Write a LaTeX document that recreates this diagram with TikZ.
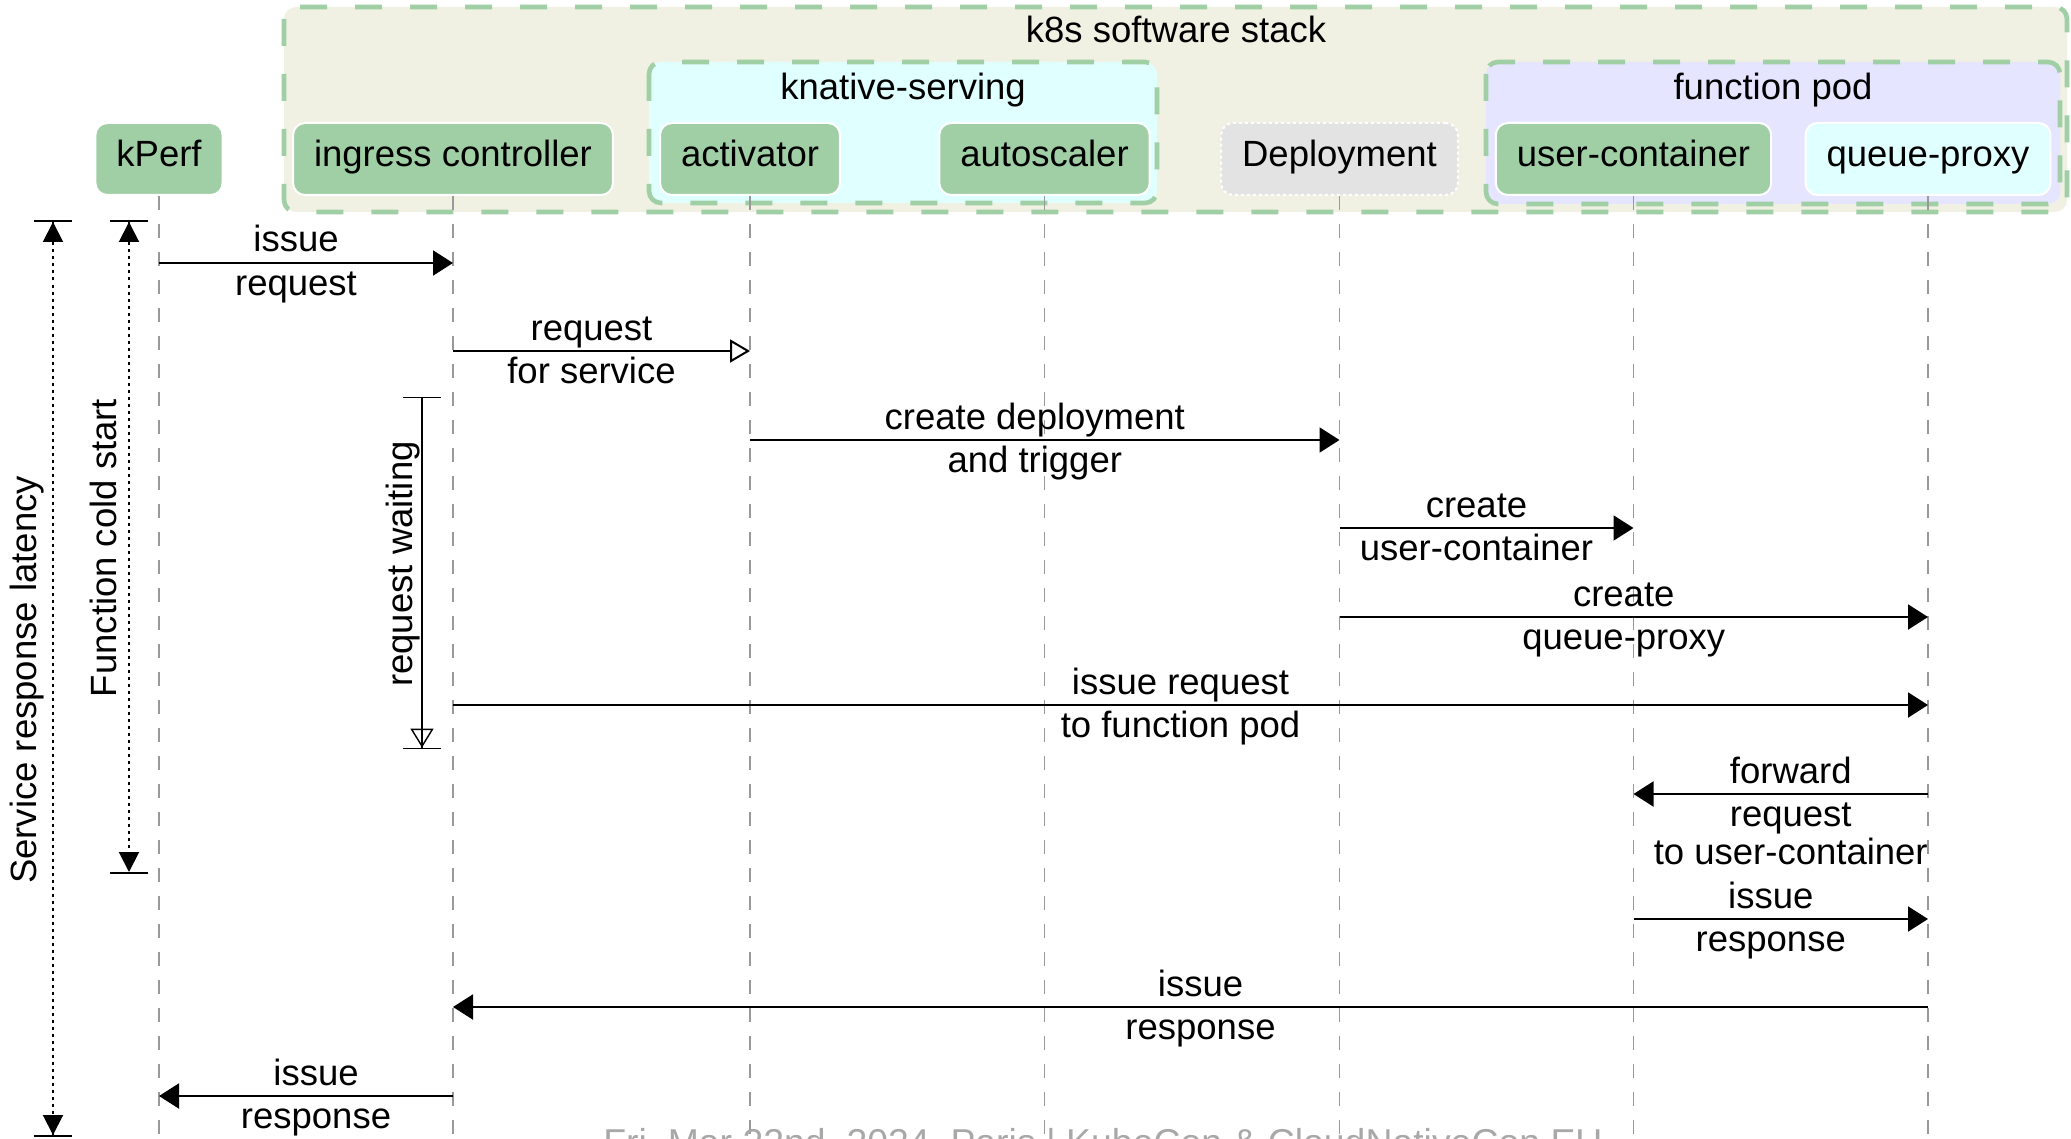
\documentclass[tikz,border=0pt]{standalone}
\usepackage{fontspec}
\setmainfont{Liberation Sans}
\usetikzlibrary{arrows.meta}
\definecolor{podgreen}{HTML}{A0CFA6}
\definecolor{stackbeige}{HTML}{F0F0E3}
\definecolor{servcyan}{HTML}{E0FFFF}
\definecolor{podlilac}{HTML}{E5E5FF}
\definecolor{deplgray}{HTML}{E3E3E3}
\definecolor{linegray}{HTML}{999999}
\definecolor{footgray}{HTML}{A8A8A8}
\newcommand{\boxh}{36pt}
\newcommand{\padx}{10.5pt}
\newcommand{\tipl}{10pt}

\tikzset{
    actor/.style = {rectangle, rounded corners=6pt, fill=podgreen, draw=white, line width=1pt,
                    minimum height=\boxh, inner xsep=\padx, text height=0.82em, text depth=0.09em},
    deployment/.style = {fill=deplgray, dash pattern=on 1.5pt off 1.5pt},
    group/.style = {draw=podgreen, line width=2.3pt, rounded corners=6pt, dash pattern=on 13.5pt off 14pt},
    grouptitle/.style = {anchor=base, inner sep=0pt},
    lifeline/.style = {draw=linegray, line width=0.85pt, dash pattern=on 7pt off 7pt},
    call/.style = {line width=1pt, -{Triangle[length=\tipl, width=12.5pt]}},
    opencall/.style = {line width=1pt, -{Triangle[open, length=\tipl, width=11.5pt]}},
    upper/.style = {midway, anchor=base, inner sep=0pt, yshift=5.5pt, xshift=#1},
    upper/.default = -5pt,
    lower/.style = {midway, anchor=base, inner sep=0pt, yshift=-16.3pt, xshift=#1, align=center},
    lower/.default = -5pt,
    lowertwo/.style = {lower=#1, yshift=-19pt, font=\fontsize{18.25pt}{19pt}\selectfont},
    span/.style = {line width=1pt, dash pattern=on 1.5pt off 2pt,
                   {Bar[width=19pt]Triangle[length=\tipl, width=10pt]}-{Triangle[length=\tipl, width=10pt]Bar[width=19pt]}},
    waiting/.style = {line width=0.7pt, {Bar[width=19pt]}-{Triangle[open, length=9.5pt, width=11.5pt]Bar[width=19pt]}},
    sidelabel/.style = {rotate=90, inner sep=0pt},
    footer/.style = {anchor=base, inner sep=0pt, text=footgray, font=\fontsize{18.7pt}{22pt}\selectfont}
}

\begin{document}
\begin{tikzpicture}[x=0.5pt, y=-0.5pt, font=\fontsize{18.25pt}{21.9pt}\selectfont]
    \useasboundingbox (0,0) rectangle (2071,1139);
    %\draw[help lines, step=100] (0,0) grid (2071,1139);
    % groups
    \draw[group, fill=stackbeige] (284,7) rectangle (2067,212);
    \draw[group, fill=servcyan] (649,62) rectangle (1157,203);
    \draw[group, fill=podlilac] (1486,62) rectangle (2060,204);
    \node[grouptitle] (k8s) at (1176,43) {k8s software stack};
    \node[grouptitle] (knative) at (903,100) {knative-serving};
    \node[grouptitle] (pod) at (1773,100) {function pod};
    % participants
    \node[actor] (kperf) at (159,159) {kPerf};
    \node[actor] (ingress) at (453,159) {ingress controller};
    \node[actor] (activator) at (750,159) {activator};
    \node[actor] (autoscaler) at (1044.5,159) {autoscaler};
    \node[actor, deployment] (deploy) at (1339.5,159) {Deployment};
    \node[actor] (usercont) at (1633.5,159) {user-container};
    \node[actor, fill=servcyan] (qproxy) at (1928,159) {queue-proxy};
    \coordinate (bottom) at (0,1139);
    \foreach \n in {kperf,ingress,activator,autoscaler,deploy,usercont,qproxy} {
        \draw[lifeline] (\n.south) -- (\n.south |- bottom);
    }
    % message rows
    \foreach \y [count=\i] in {263,351,440,528,617,705,794,919,1007,1096} {
        \coordinate (m\i) at (0,\y);
    }
    \draw[call] (kperf |- m1) -- (ingress |- m1) node[upper] {issue} node[lower] {request};
    \draw[opencall] (ingress |- m2) -- (activator |- m2) node[upper] {request} node[lower] {for service};
    \draw[call] (activator |- m3) -- (deploy |- m3) node[upper] {create deployment} node[lower] {and trigger};
    \draw[call] (deploy |- m4) -- (usercont |- m4) node[upper] {create} node[lower] {user-container};
    \draw[call] (deploy |- m5) -- (qproxy |- m5) node[upper] {create} node[lower] {queue-proxy};
    \draw[call] (ingress |- m6) -- (qproxy |- m6) node[upper] {issue request} node[lower] {to function pod};
    \draw[call] (qproxy |- m7) -- (usercont |- m7) node[upper=5pt] {forward} node[lowertwo=5pt] {request\\to user-container};
    \draw[call] (usercont |- m8) -- (qproxy |- m8) node[upper] {issue} node[lower] {response};
    \draw[call] (qproxy |- m9) -- (ingress |- m9) node[upper=5pt] {issue} node[lower=5pt] {response};
    \draw[call] (ingress |- m10) -- (kperf |- m10) node[upper=5pt] {issue} node[lower=5pt] {response};
    % time spans
    \coordinate (srv0) at (53,220);
    \coordinate (srv1) at (53,1137);
    \coordinate (cold0) at (129,220);
    \coordinate (cold1) at (129,874);
    \coordinate (wait0) at (422,397);
    \coordinate (wait1) at (422,749);
    \draw[span] (srv0) -- (srv1);
    \draw[span] (cold0) -- (cold1);
    \draw[waiting] (wait0) -- (wait1);
    \node[sidelabel] (latency) at (27,680) {Service response latency};
    \node[sidelabel] (coldstart) at (103,548) {Function cold start};
    \node[sidelabel] (waitlabel) at (403,564) {request waiting};
    \node[footer] (footer) at (1103,1155) {Fri, Mar 22nd, 2024, Paris | KubeCon \& CloudNativeCon EU};
\end{tikzpicture}
\end{document}
